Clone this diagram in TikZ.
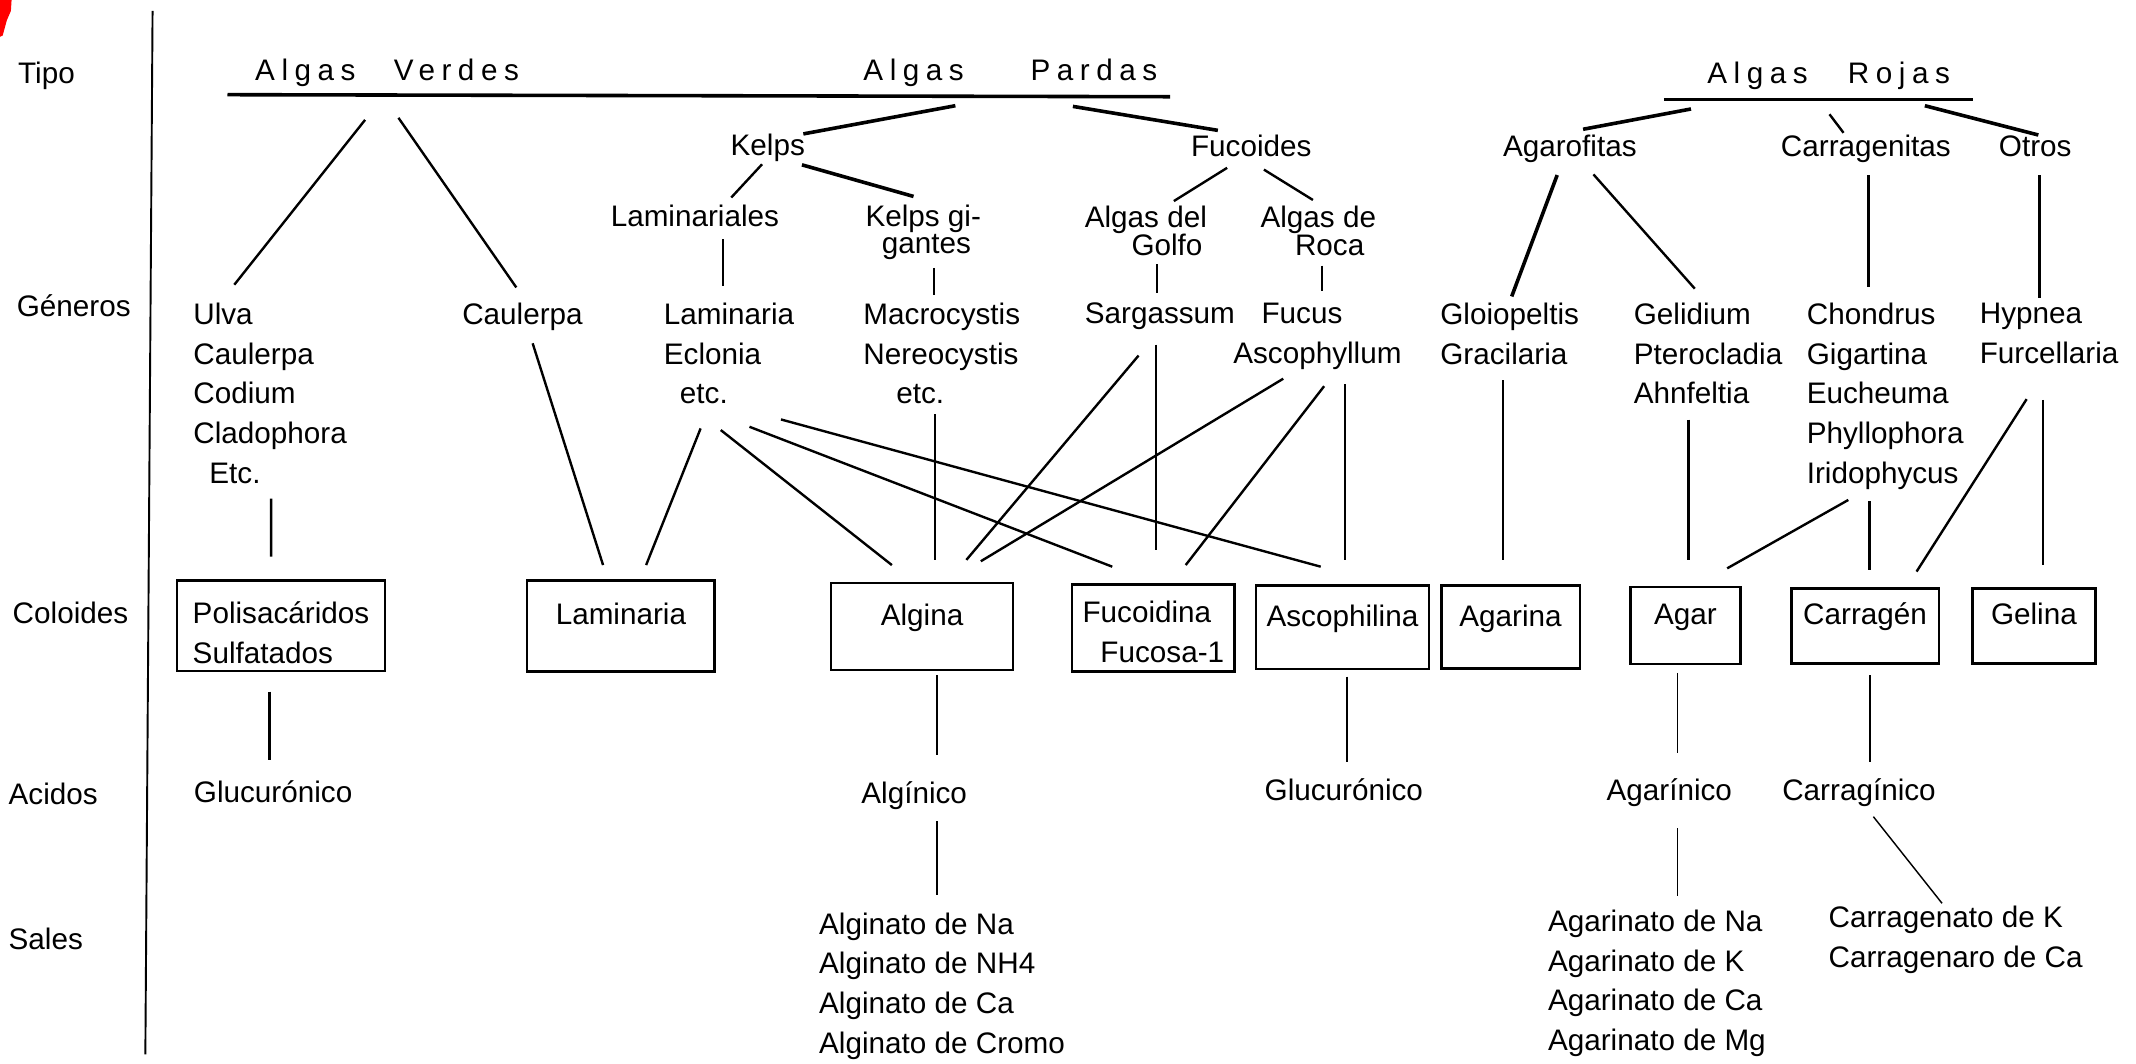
\documentclass[tikz,border=0pt]{standalone}
\usepackage{fontspec}
\setmainfont{Liberation Sans}
\usetikzlibrary{calc}

\begin{document}
\begin{tikzpicture}[x=0.02cm, y=-0.02cm, font=\fontsize{12.4}{16.6}\selectfont,
	txt/.style={inner sep=0pt, anchor=north west, align=left},
	head/.style={txt, font=\fontsize{12.4}{16.6}\selectfont\addfontfeature{LetterSpace=22}},
	colbox/.style={draw, line width=1.1pt, inner sep=0pt, anchor=north west, align=left},
	onebox/.style={colbox, align=center, text height=9pt, text depth=10pt},
	link/.style={line width=1pt},
	boldlink/.style={line width=1.5pt},
	thinlink/.style={line width=0.6pt},
	bar/.style={line width=1.5pt}]
\useasboundingbox (0,0) rectangle (1568,781);
\fill[red] (0,0) -- (8.5,0) -- (8,8) -- (5,15) -- (2,26) -- (0,27) -- cycle;

\node[txt] (tipo) at (13,45) {Tipo};
\node[txt] (generos) at (12,216) {Géneros};
\node[txt] (coloides) at (9,441.5) {Coloides};
\node[txt] (acidos) at (6,574.5) {Acidos};
\node[txt] (sales) at (6,681) {Sales};
\draw[line width=0.8pt] (112,8) -- (106.7,774);

\node[head] (verdes) at (187,43) {Algas\hspace{16pt}Verdes};
\node[head] (pardas) at (633.5,43) {Algas\hspace{27.9pt}Pardas};
\node[head] (rojas) at (1253,45.5) {Algas\hspace{16.8pt}Rojas};

\node[txt] (kelps) at (536,98) {Kelps};
\node[txt] (fucoides) at (874,99) {Fucoides};
\node[txt] (agarofitas) at (1103,99) {Agarofitas};
\node[txt] (carragenitas) at (1307,99) {Carragenitas};
\node[txt] (otros) at (1467,99) {Otros};

\node[txt] (laminariales) at (448,150) {Laminariales};
\node[txt] (kelpsg) at (635,150) {Kelps gi-\\[-5.1pt]\hspace*{6.8pt}gantes};
\node[txt] (golfo) at (796,151) {Algas del\\[-5.1pt]\hspace*{19.5pt}Golfo};
\node[txt] (roca) at (925,151) {Algas de\\[-5.1pt]\hspace*{14.4pt}Roca};

\node[txt] (ulva) at (141.6,222) {Ulva\\Caulerpa\\Codium\\Cladophora\\\hspace*{6.7pt}Etc.};
\node[txt] (caulerpa) at (339,222) {Caulerpa};
\node[txt] (laminaria) at (487,222) {Laminaria\\Eclonia\\\hspace*{6.7pt}etc.};
\node[txt] (macro) at (633.5,222) {Macrocystis\\Nereocystis\\\hspace*{13.7pt}etc.};
\node[txt] (sargassum) at (796,222) {Sargassum};
\node[txt] (fucus) at (905,222) {\hspace*{11.8pt}Fucus\\Ascophyllum};
\node[txt] (gloio) at (1057,222) {Gloiopeltis\\Gracilaria};
\node[txt] (gelid) at (1199,222) {Gelidium\\Pterocladia\\Ahnfeltia};
\node[txt] (chondrus) at (1326,222) {Chondrus\\Gigartina\\Eucheuma\\Phyllophora\\Iridophycus};
\node[txt] (hypnea) at (1453,222) {Hypnea\\Furcellaria};

\node[colbox, minimum width=3.052cm, minimum height=1.33cm] (polis) at (129,425)
	{\rule{0pt}{15.3pt}Polisacáridos\\Sulfatados};
\node[onebox, minimum width=2.754cm, minimum height=1.34cm] (lambox) at (386,425) {Laminaria};
\node[onebox, minimum width=2.676cm, minimum height=1.28cm] (algina) at (609,427) {Algina};
\node[colbox, minimum width=2.388cm, minimum height=1.276cm] (fucoidina) at (786,428)
	{\rule{0pt}{12.3pt}Fucoidina\\\hspace*{7.5pt}Fucosa-1};
\node[onebox, minimum width=2.54cm, minimum height=1.224cm] (ascophilina) at (921,429) {Ascophilina};
\node[onebox, minimum width=2.036cm, minimum height=1.22cm] (agarina) at (1057,429) {Agarina};
\node[onebox, minimum width=1.614cm, minimum height=1.13cm] (agar) at (1196,430) {Agar};
\node[onebox, minimum width=2.166cm, minimum height=1.1cm] (carragen) at (1314,431) {Carragén};
\node[onebox, minimum width=1.804cm, minimum height=1.1cm] (gelina) at (1447,431) {Gelina};

\node[txt] (glucu1) at (142,572.5) {Glucurónico};
\node[txt] (alginico) at (632,573.5) {Algínico};
\node[txt] (glucu2) at (928,571.5) {Glucurónico};
\node[txt] (agarinico) at (1179,571.5) {Agarínico};
\node[txt] (carraginico) at (1308,571.5) {Carragínico};

\node[txt] (alginato) at (601,669.5) {Alginato de Na\\Alginato de NH4\\Alginato de Ca\\Alginato de Cromo};
\node[txt] (agarinato) at (1136,667.5) {Agarinato de Na\\Agarinato de K\\Agarinato de Ca\\Agarinato de Mg};
\node[txt] (carragenato) at (1342,665) {Carragenato de K\\Carragenaro de Ca};

\draw[bar] ($(verdes.north west)+(-20,26.5)$) -- ($(pardas.north west)+(225.5,28)$);
\draw[bar] ($(rojas.north west)+(-31.6,27.4)$) -- ($(rojas.north west)+(195.1,27.4)$);

\draw[link] ($(verdes.north west)+(81,45)$) -- ($(ulva.north west)+(30.4,-13)$);
\draw[link] ($(verdes.north west)+(105.5,43.5)$) -- ($(caulerpa.north west)+(40,-11)$);
\draw[boldlink] ($(pardas.north west)+(67.8,34.6)$) -- ($(kelps.north west)+(53.7,0.3)$);
\draw[boldlink] ($(pardas.north west)+(154.1,35.1)$) -- ($(fucoides.north west)+(20,-3.3)$);
\draw[boldlink] ($(rojas.north west)+(-11.7,34.5)$) -- ($(agarofitas.north west)+(59.1,-4.1)$);
\draw[link] ($(rojas.north west)+(90,38.4)$) -- ($(carragenitas.north west)+(46.3,-1.5)$);
\draw[boldlink] ($(rojas.north west)+(160,32.1)$) -- ($(otros.north west)+(29.3,0.1)$);

\draw[link] ($(kelps.north west)+(23.4,22.6)$) -- ($(laminariales.north west)+(88.8,-5)$);
\draw[boldlink] ($(kelps.north west)+(52.7,23)$) -- ($(kelpsg.north west)+(35.6,-5.8)$);
\draw[link] ($(fucoides.north west)+(26.8,24.2)$) -- ($(golfo.north west)+(65.7,-3.4)$);
\draw[link] ($(fucoides.north west)+(53.8,25.5)$) -- ($(roca.north west)+(38.8,-4.2)$);

\draw[link] ($(laminariales.north west)+(82.7,25.7)$) -- ($(laminaria.north west)+(43.7,-12.2)$);
\draw[link] ($(kelpsg.north west)+(50.8,46.6)$) -- ($(macro.north west)+(52.3,-5.7)$);
\draw[link] ($(golfo.north west)+(53.3,43)$) -- ($(sargassum.north west)+(53.3,-7)$);
\draw[link] ($(roca.north west)+(45.6,44)$) -- ($(fucus.north west)+(65.6,-8.3)$);

\draw[boldlink] ($(agarofitas.north west)+(40.1,29.5)$) -- ($(gloio.north west)+(52.7,-4.4)$);
\draw[link] ($(agarofitas.north west)+(66.7,29)$) -- ($(gelid.north west)+(45.1,-10.1)$);
\draw[link] ($(carragenitas.north west)+(64.6,29.5)$) -- ($(chondrus.north west)+(45.6,-11)$);
\draw[link] ($(otros.north west)+(30,29.5)$) -- ($(hypnea.north west)+(44,-3)$);

\draw[link] ($(ulva.north west)+(57.4,144)$) -- ($(polis.north west)+(70,-16.4)$);
\draw[link] ($(caulerpa.north west)+(52,30)$) -- ($(lambox.north west)+(56.7,-10.2)$);
\draw[link] ($(laminaria.north west)+(27.3,92.5)$) -- ($(lambox.north west)+(88.3,-10.2)$);
\draw[link] ($(laminaria.north west)+(42.1,93.7)$) -- ($(algina.north west)+(45.7,-12.2)$);
\draw[link] ($(laminaria.north west)+(63.2,91.3)$) -- ($(fucoidina.north west)+(30.5,-12)$);
\draw[link] ($(laminaria.north west)+(86.3,85.9)$) -- ($(ascophilina.north west)+(48.5,-13)$);
\draw[link] ($(macro.north west)+(53,82)$) -- ($(algina.north west)+(77.5,-16)$);
\draw[link] ($(sargassum.north west)+(39.8,39)$) -- ($(algina.north west)+(100.4,-16)$);
\draw[link] ($(sargassum.north west)+(52.6,31)$) -- ($(fucoidina.north west)+(62.6,-24)$);
\draw[link] ($(fucus.north west)+(37,56)$) -- ($(algina.north west)+(111,-15)$);
\draw[link] ($(fucus.north west)+(67,61.5)$) -- ($(fucoidina.north west)+(84.4,-13.2)$);
\draw[link] ($(fucus.north west)+(82.4,60)$) -- ($(ascophilina.north west)+(66.4,-18)$);
\draw[link] ($(gloio.north west)+(46.5,57)$) -- ($(agarina.north west)+(46.5,-18)$);
\draw[link] ($(gelid.north west)+(40.6,86)$) -- ($(agar.north west)+(43.6,-19)$);
\draw[link] ($(chondrus.north west)+(30.8,145)$) -- ($(agar.north west)+(71.9,-12.8)$);
\draw[link] ($(chondrus.north west)+(46.3,146)$) -- ($(carragen.north west)+(58.3,-12.6)$);
\draw[link] ($(hypnea.north west)+(34.7,71)$) -- ($(carragen.north west)+(92.9,-11.4)$);
\draw[link] ($(hypnea.north west)+(46.8,71.6)$) -- ($(gelina.north west)+(52.8,-16.2)$);

\draw[link] ($(polis.north west)+(68.9,82.7)$) -- ($(glucu1.north west)+(55.9,-14.6)$);
\draw[link] ($(algina.north west)+(78.9,68.5)$) -- ($(alginico.north west)+(55.9,-19.5)$);
\draw[link] ($(ascophilina.north west)+(67.8,67.7)$) -- ($(glucu2.north west)+(60.8,-12.4)$);
\draw[thinlink] ($(agar.north west)+(35.6,64)$) -- ($(agarinico.north west)+(52.6,-18.5)$);
\draw[thinlink] ($(carragen.north west)+(58.6,64.5)$) -- ($(carraginico.north west)+(64.6,-12.5)$);

\draw[thinlink] ($(alginico.north west)+(55.9,29.5)$) -- ($(alginato.north west)+(86.9,-12.5)$);
\draw[thinlink] ($(agarinico.north west)+(52.6,36.5)$) -- ($(agarinato.north west)+(95.6,-9.5)$);
\draw[thinlink] ($(carraginico.north west)+(67.2,28)$) -- ($(carragenato.north west)+(83.6,-1.9)$);
\end{tikzpicture}
\end{document}
